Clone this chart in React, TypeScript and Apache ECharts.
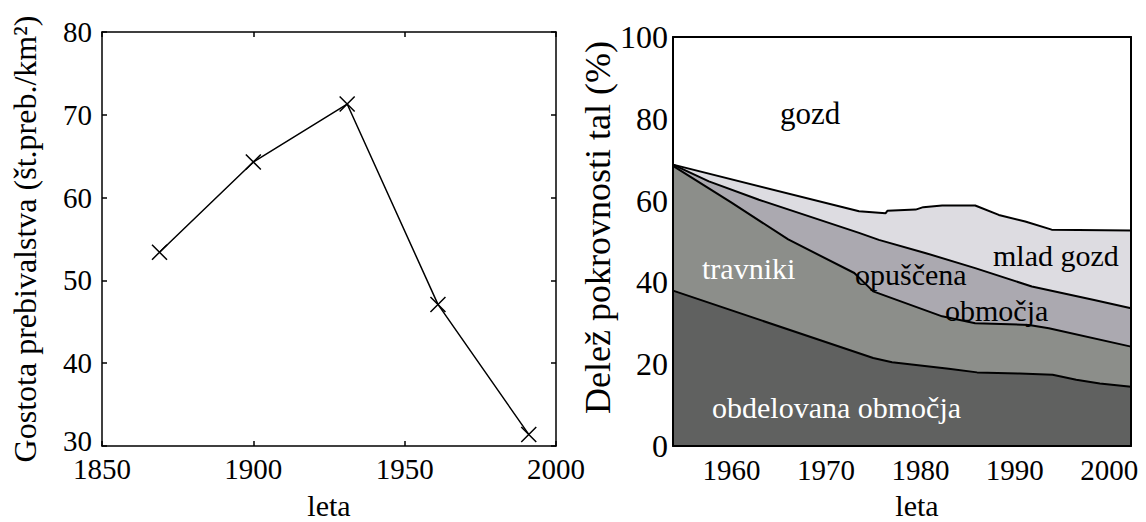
import React, { useEffect, useRef } from "react";
import * as echarts from "echarts";

// Left chart: population density
const popYears = [1869, 1900, 1931, 1961, 1991];
const popDensity = [53.4, 64.3, 71.3, 47.1, 31.4];
const popMin = 30;
const popMax = 80;

// Right chart: cumulative upper boundaries of land-cover classes (%)
const arableYears = [1953.8, 1975, 1977, 1983, 1986, 1990.5, 1994, 1996.5, 1999, 2002.3];
const arableTop = [38, 21.5, 20.5, 18.9, 18.0, 17.7, 17.4, 16.2, 15.3, 14.5];

const grassYears = [1953.8, 1960, 1966, 1973, 1975, 1982.3, 1985.8, 1991.5, 1993.6, 2002.3];
const grassTop = [68.5, 59.5, 50.5, 42.3, 37.8, 31.7, 30.0, 29.6, 28.8, 24.3];

const abandonedYears = [1953.8, 1957.6, 1962.9, 1973.5, 1975.6, 1980.5, 1985.8, 1991.8, 1998.4, 2002.3];
const abandonedTop = [68.8, 64.7, 60.2, 52.1, 50.4, 47.2, 43.5, 39.0, 35.7, 33.7];

const youngYears = [1953.8, 1973.5, 1976.3, 1976.5, 1979.5, 1980.3, 1982.3, 1985.8, 1988.3, 1991.1, 1993.9, 2002.3];
const youngTop = [68.8, 57.4, 56.9, 57.5, 57.8, 58.4, 58.8, 58.8, 56.5, 54.9, 52.9, 52.7];

const rightTicks = [1960, 1970, 1980, 1990, 2000];

const FONT = "Liberation Serif";

const zip = (xs: number[], ys: number[]) => xs.map((x, i) => [x, ys[i]]);
const plain = (v: number) => String(v);

export default function App() {
  const ref = useRef<HTMLDivElement>(null);
  useEffect(() => {
    document.body.style.margin = "0";
    const chart = echarts.init(ref.current!, undefined, { renderer: "svg" });
    const line = { color: "#000", width: 1.5 };
    const tick = { show: true, inside: true, length: 5, lineStyle: { color: "#000", width: 1.5 } };
    const lbl = (size: number, margin: number) => ({ color: "#000", fontSize: size, fontFamily: FONT, margin, formatter: plain });
    const txt = (text: string, x: number, y: number, fill: string, size: number) => ({
      type: "text", x, y, z: 100,
      style: { text, fill, fontSize: size, fontFamily: FONT, align: "left", verticalAlign: "middle", textAlign: "left", textVerticalAlign: "middle" },
    });
    const areaSeries = (name: string, xs: number[], ys: number[], color: string) => ({
      type: "line",
      name,
      xAxisIndex: 2,
      yAxisIndex: 2,
      data: zip(xs, ys),
      showSymbol: false,
      symbol: "none",
      lineStyle: { color: "#000", width: 2 },
      areaStyle: { color, opacity: 1, origin: "start" },
      silent: true,
    });
    chart.setOption({
      animation: false,
      backgroundColor: "#fff",
      textStyle: { fontFamily: FONT },
      grid: [
        { left: 102, top: 32, width: 454, height: 414, containLabel: false, outerBoundsMode: "none" },
        { left: 673, top: 37, width: 458, height: 409, containLabel: false, outerBoundsMode: "none" },
      ],
      xAxis: [
        {
          gridIndex: 0, type: "value", min: 1850, max: 2000, interval: 50, position: "bottom",
          axisLine: { onZero: false, lineStyle: line }, axisTick: tick, axisLabel: lbl(29, 8),
          splitLine: { show: false },
          name: "leta", nameLocation: "middle", nameGap: 44,
          nameTextStyle: { color: "#000", fontSize: 30, fontFamily: FONT },
        },
        {
          gridIndex: 0, type: "value", min: 1850, max: 2000, interval: 50, position: "top",
          axisLine: { onZero: false, lineStyle: line }, axisTick: tick, axisLabel: { show: false },
          splitLine: { show: false },
        },
        {
          gridIndex: 1, type: "value", min: 1953.8, max: 2002.3, position: "bottom", z: 10,
          axisLine: { onZero: false, lineStyle: { color: "#000", width: 2 } },
          axisTick: { show: false },
          axisLabel: { ...lbl(29, 9), customValues: rightTicks },
          splitLine: { show: false },
          name: "leta", nameLocation: "middle", nameGap: 44,
          nameTextStyle: { color: "#000", fontSize: 30, fontFamily: FONT, padding: [0, 0, 0, 30] },
        },
        {
          gridIndex: 1, type: "value", min: 1953.8, max: 2002.3, position: "top", z: 10,
          axisLine: { onZero: false, lineStyle: { color: "#000", width: 2 } },
          axisTick: { show: false }, axisLabel: { show: false }, splitLine: { show: false },
        },
      ],
      yAxis: [
        {
          gridIndex: 0, type: "value", min: popMin, max: popMax, interval: 10, position: "left",
          axisLine: { onZero: false, lineStyle: line }, axisTick: tick,
          axisLabel: {
            ...lbl(29, 10),
            formatter: (v: number) => (v === popMin ? `{lo|${v}}` : String(v)),
            rich: { lo: { color: "#000", fontSize: 29, fontFamily: FONT, padding: [0, 0, 10, 0] } },
          },
          splitLine: { show: false },
          name: "Gostota prebivalstva (št.preb./km²)", nameLocation: "middle", nameRotate: 90, nameGap: 61,
          nameTextStyle: { color: "#000", fontSize: 32, fontFamily: FONT },
        },
        {
          gridIndex: 0, type: "value", min: popMin, max: popMax, interval: 10, position: "right",
          axisLine: { onZero: false, lineStyle: line }, axisTick: tick, axisLabel: { show: false },
          splitLine: { show: false },
        },
        {
          gridIndex: 1, type: "value", min: 0, max: 100, interval: 20, position: "left", z: 10,
          axisLine: { onZero: false, lineStyle: { color: "#000", width: 2 } },
          axisTick: { show: false }, axisLabel: lbl(32, 5), splitLine: { show: false },
          name: "Delež pokrovnosti tal (%)", nameLocation: "middle", nameRotate: 90, nameGap: 56,
          nameTextStyle: { color: "#000", fontSize: 36, fontFamily: FONT, padding: [0, 0, 0, 28] },
        },
        {
          gridIndex: 1, type: "value", min: 0, max: 100, interval: 20, position: "right", z: 10,
          axisLine: { onZero: false, lineStyle: { color: "#000", width: 2 } },
          axisTick: { show: false }, axisLabel: { show: false }, splitLine: { show: false },
        },
      ],
      series: [
        {
          type: "line",
          name: "Gostota prebivalstva",
          xAxisIndex: 0,
          yAxisIndex: 0,
          data: zip(popYears, popDensity),
          symbol: "path://M0,0L10,10M10,0L0,10",
          symbolSize: 15,
          showSymbol: true,
          lineStyle: { color: "#000", width: 1.5 },
          itemStyle: { color: "#000", borderColor: "#000", borderWidth: 1.5 },
        },
        areaSeries("mlad gozd", youngYears, youngTop, "#dddce1"),
        areaSeries("opuščena območja", abandonedYears, abandonedTop, "#aba9b0"),
        areaSeries("travniki", grassYears, grassTop, "#8c8e8a"),
        areaSeries("obdelovana območja", arableYears, arableTop, "#606160"),
      ],
      graphic: [
        txt("gozd", 780, 113, "#000", 31),
        txt("travniki", 702, 268, "#fff", 30),
        txt("opuščena", 855, 274, "#000", 30),
        txt("območja", 945, 310, "#000", 30),
        txt("mlad gozd", 993, 255, "#000", 30),
        txt("obdelovana območja", 712, 407, "#fff", 30),
      ],
    });
    return () => chart.dispose();
  }, []);
  return <div ref={ref} style={{ width: 1146, height: 522 }} />;
}
